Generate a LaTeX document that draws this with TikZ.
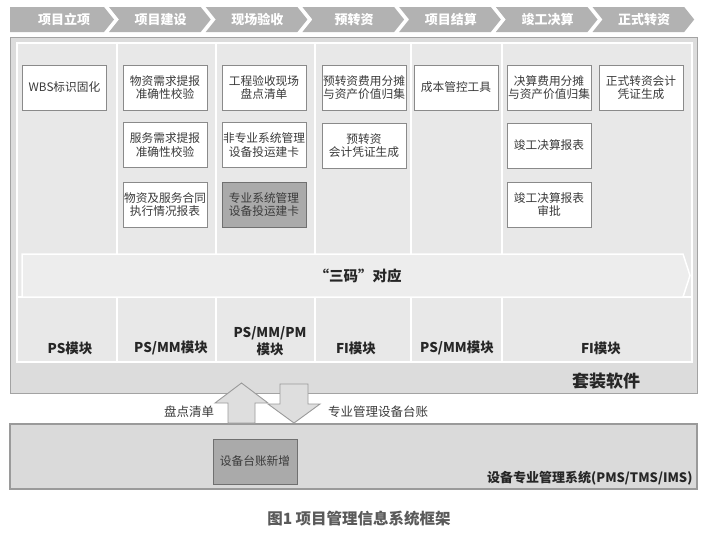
\documentclass[tikz,border=0pt]{standalone}
\usepackage{fontspec}
\setmainfont{Noto Sans CJK SC}
\definecolor{chevfill}{HTML}{B2B2B2}
\definecolor{outerborder}{HTML}{A3A3A3}
\definecolor{outerfill}{HTML}{DCDCDC}
\definecolor{panel}{HTML}{E8E8E8}
\definecolor{bandfill}{HTML}{EDEDED}
\definecolor{boxborder}{HTML}{8A8A8A}
\definecolor{textgray}{HTML}{3A3A3A}
\definecolor{darkbox}{HTML}{AAAAAA}
\definecolor{darkboxborder}{HTML}{707070}
\definecolor{arrowfill}{HTML}{DEDEDE}
\definecolor{arrowborder}{HTML}{9A9A9A}
\definecolor{bottomfill}{HTML}{DADADA}
\definecolor{captiongray}{HTML}{5A5A5A}
\begin{document}
\begin{tikzpicture}[x=1pt,y=-1pt,
  box/.style={draw=boxborder, fill=white, line width=0.8pt, minimum width=84pt, minimum height=45pt,
    inner sep=0pt, align=center, text=textgray, font=\fontsize{11.7}{13.5}\selectfont},
  darkcard/.style={box, fill=darkbox, draw=darkboxborder},
  chevlabel/.style={text=white, font=\fontsize{13}{14}\selectfont\bfseries},
  modlabel/.style={text=black!85, align=center, font=\fontsize{13.5}{16.5}\selectfont\bfseries},
  sep/.style={draw=white, line width=1.5pt},
  blockarrow/.style={draw=arrowborder, fill=arrowfill, line width=0.9pt, line join=miter},
  flowlabel/.style={text=textgray, font=\fontsize{12.5}{14}\selectfont}]
\useasboundingbox (0,0) rectangle (714,538);

% chevron bar
\foreach \k/\t in {0/项目立项,1/项目建设,2/现场验收,3/预转资,4/项目结算,5/竣工决算,6/正式转资}{
  \pgfmathsetmacro\tip{114+96.7*\k}
  \pgfmathsetmacro\lft{\k==0 ? 10 : \tip-101.7}
  \pgfmathsetmacro\nd{\k==0 ? 0 : 10}
  \fill[chevfill] (\lft,7) -- (\tip-10,7) -- (\tip,19.5) -- (\tip-10,32) -- (\lft,32) -- (\lft+\nd,19.5) -- cycle;
  \node[chevlabel] (chev\k) at (\tip-50,19.5) {\t};
}

% main container
\draw[draw=outerborder, fill=outerfill, line width=1pt] (10,37) rectangle (697,393);
\draw[sep, fill=panel] (17,43) rectangle (692,362);
\foreach \x in {117,216,315,411,502}{\draw[sep] (\x,43) -- (\x,362);}
\draw[sep] (17,297) -- (692,297);
\draw[sep, fill=bandfill] (22,254) -- (683,254) -- (690,275.5) -- (683,297) -- (22,297) -- cycle;
\node[font=\fontsize{14.5}{16}\selectfont\bfseries, text=black!85] (band) at (358,276) {“三码”对应};

% cards
\node[box] (wbs) at (64.5,87.5) {WBS标识固化};
\node[box] (c2a) at (165,87.5) {物资需求提报\\准确性校验};
\node[box] (c2b) at (165,145) {服务需求提报\\准确性校验};
\node[box] (c2c) at (165,204.5) {物资及服务合同\\执行情况报表};
\node[box] (c3a) at (264,87.5) {工程验收现场\\盘点清单};
\node[box] (c3b) at (264,145) {非专业系统管理\\设备投运建卡};
\node[darkcard] (c3c) at (264,204.5) {专业系统管理\\设备投运建卡};
\node[box] (c4a) at (364,87.5) {预转资费用分摊\\与资产价值归集};
\node[box] (c4b) at (364,145.5) {预转资\\会计凭证生成};
\node[box] (c5a) at (456,87.5) {成本管控工具};
\node[box] (c6a) at (549,87.5) {决算费用分摊\\与资产价值归集};
\node[box] (c6b) at (549,145.5) {竣工决算报表};
\node[box] (c6c) at (549,204.5) {竣工决算报表\\审批};
\node[box] (c7a) at (641,87.5) {正式转资会计\\凭证生成};

% module labels
\node[modlabel] (m1) at (70,348) {PS模块};
\node[modlabel] (m2) at (171,348) {PS/MM模块};
\node[modlabel] (m3) at (270,341) {PS/MM/PM\\模块};
\node[modlabel] (m4) at (356,348) {FI模块};
\node[modlabel] (m5) at (457,348) {PS/MM模块};
\node[modlabel] (m6) at (601,348) {FI模块};
\node[text=black!85, font=\fontsize{17}{19}\selectfont\bfseries] (suite) at (606,381) {套装软件};

% bottom system
\draw[draw=arrowborder, fill=bottomfill, line width=1.2pt] (10,424) rectangle (697,489);
\node[darkcard] (newacct) at (255,461.5) {设备台账新增};
\node[anchor=east, text=black!85, font=\fontsize{13}{14}\selectfont\bfseries] (pms) at (696,478) {设备专业管理系统(PMS/TMS/IMS)};

% block arrows
\draw[blockarrow] (241.5,383) -- (268,403) -- (255,403) -- (255,423) -- (228,423) -- (228,403) -- (215,403) -- cycle;
\draw[blockarrow] (280,384) -- (308,384) -- (308,404) -- (320,404) -- (294,423) -- (268,404) -- (280,404) -- cycle;
\node[flowlabel] (lup) at (189,412) {盘点清单};
\node[flowlabel] (ldown) at (378,412) {专业管理设备台账};

% caption
\node[text=captiongray, font=\fontsize{15.5}{17}\selectfont\bfseries] (caption) at (359,519) {图1\ 项目管理信息系统框架};
\end{tikzpicture}
\end{document}
